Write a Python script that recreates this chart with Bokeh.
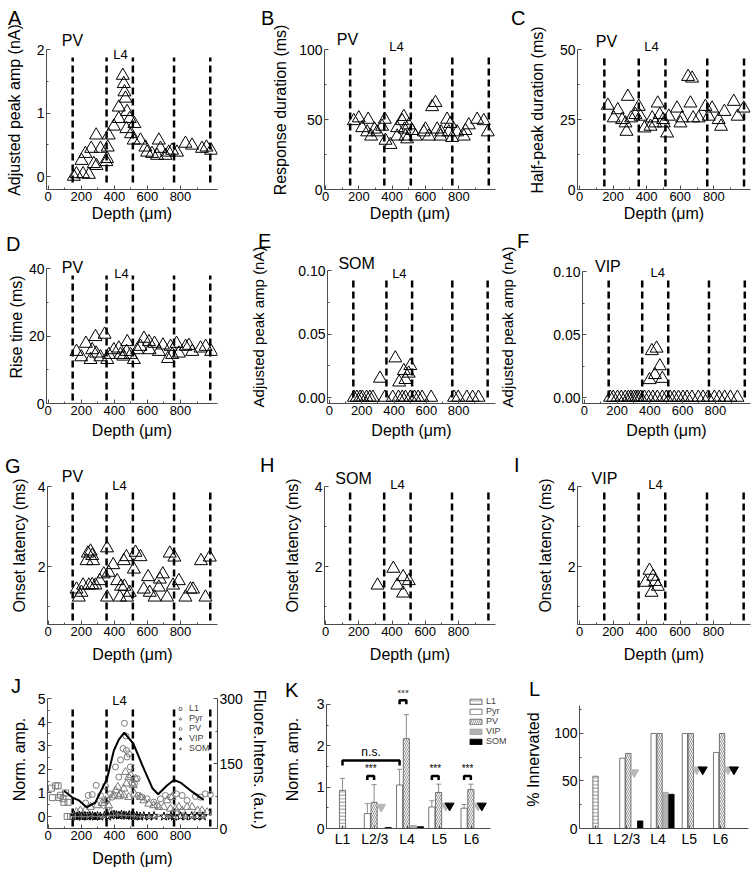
import math
from bokeh.plotting import figure
from bokeh.models import (Range1d, FixedTicker, LinearAxis, Label, Legend, LegendItem, Title,
                          Whisker, ColumnDataSource, TeeHead, PrintfTickFormatter)
from bokeh.layouts import column, row
from bokeh.embed import file_html
from bokeh.resources import INLINE

FONT = "Liberation Sans"
NAN = float("nan")

# ---------------------------------------------------------------- data
LAYER_BOUNDS = [148, 353, 512, 761, 980]
DEPTH_TICKS = [0, 200, 400, 600, 800]
DEPTH_MINOR = [100, 300, 500, 700, 900]

A_DEPTH = [155, 171, 211, 246, 201, 225, 260, 290, 276, 292, 316, 356, 352, 360, 366, 397, 427, 427, 451, 457,
           461, 467, 477, 473, 493, 501, 521, 517, 558, 588, 598, 628, 658, 669, 679, 709, 729, 749, 779, 830,
           870, 930, 957, 985]
A_AMP = [0.0, 0.04, 0.04, 0.03, 0.25, 0.36, 0.44, 0.65, 0.20, 0.17, 0.44, 0.28, 0.23, 0.46, 0.65, 0.79, 1.09, 0.91,
         1.59, 1.46, 1.33, 1.23, 1.02, 0.75, 0.91, 0.67, 0.83, 0.57, 0.57, 0.46, 0.38, 0.36, 0.33, 0.57, 0.44, 0.33,
         0.38, 0.41, 0.38, 0.52, 0.49, 0.44, 0.46, 0.41]

B_DEPTH = [170, 200, 220, 256, 250, 274, 294, 310, 340, 356, 360, 390, 430, 430, 460, 470, 474, 480, 500, 490,
           520, 540, 590, 600, 620, 640, 660, 670, 694, 690, 730, 750, 740, 760, 790, 830, 860, 910, 950, 974, 840]
B_DUR = [49, 51, 44, 50, 41, 38, 43, 41, 45, 50, 35, 32, 38, 44, 49, 52, 43, 38, 46, 36,
         42, 38, 41, 43, 38, 59, 62, 43, 41, 38, 50, 47, 41, 37, 41, 38, 46, 50, 49, 41, 42]

C_DEPTH = [169, 204, 228, 254, 274, 280, 288, 308, 333, 353, 363, 387, 423, 433, 452, 466, 478, 498, 502, 522,
           532, 581, 601, 611, 647, 671, 661, 677, 710, 750, 770, 790, 829, 843, 863, 919, 942, 978]
C_HALF = [30, 25.5, 28.4, 24.9, 23.7, 20.7, 33.2, 25.5, 26.7, 29.6, 26.1, 21.9, 22.5, 25.5, 23.7, 30.8, 26.7, 24.9,
          23.7, 20.1, 26.1, 29, 23.7, 25.5, 40.3, 39.7, 30.8, 25.5, 25.5, 29.6, 26.1, 29, 24.9, 22.5, 27.8, 31.4,
          26.1, 29]

D_DEPTH = [171, 200, 228, 256, 266, 286, 290, 316, 341, 357, 367, 397, 427, 437, 454, 474, 478, 498, 518, 538,
           558, 579, 609, 613, 643, 669, 694, 724, 740, 776, 790, 851, 871, 921, 952, 986, 831, 750]
D_RISE = [15.4, 13.8, 17.8, 13.0, 15.9, 19.8, 14.9, 13.8, 20.5, 13.0, 14.5, 15.9, 16.4, 14.5, 14.0, 15.4, 18.3,
          14.5, 13.0, 15.9, 16.9, 19.3, 18.3, 15.9, 17.8, 15.4, 17.3, 13.3, 16.9, 17.8, 14.9, 17.2, 15.4, 16.4,
          16.9, 15.4, 16.9, 14.5]

E_DEPTH = [152, 170, 190, 204, 230, 250, 269, 343, 392, 428, 451, 471, 501, 527, 550, 574, 630, 772, 798, 851,
           887, 923, 313, 408, 432, 461, 471, 501, 491]
E_AMP = [0, 0, 0, 0, 0, 0, 0, 0, 0, 0, 0, 0, 0, 0, 0, 0, 0, 0, 0, 0,
         0, 0, 0.015, 0.031, 0.012, 0.021, 0.014, 0.025, 0.019]

F_DEPTH = [157, 176, 202, 225, 249, 269, 284, 300, 314, 327, 343, 367, 392, 418, 445, 476, 500, 524, 549, 575,
           602, 627, 657, 696, 725, 755, 794, 824, 857, 892, 935, 412, 441, 461, 431, 398, 476]
F_AMP = [0, 0, 0, 0, 0, 0, 0, 0, 0, 0, 0, 0, 0, 0, 0, 0, 0, 0, 0, 0,
         0, 0, 0, 0, 0, 0, 0, 0, 0, 0, 0, 0.037, 0.039, 0.025, 0.018, 0.014, 0.015]

G_DEPTH = [171, 185, 201, 211, 240, 256, 266, 232, 272, 246, 266, 286, 312, 336, 356, 356, 366, 393, 417, 433,
           441, 457, 473, 461, 477, 493, 518, 528, 558, 578, 604, 614, 643, 675, 693, 669, 719, 735, 763, 755,
           790, 830, 860, 876, 924, 951, 977]
G_LAT = [1.43, 1.23, 1.35, 1.53, 2.33, 2.38, 2.27, 2.14, 2.14, 1.53, 1.54, 1.53, 1.64, 1.81, 2.46, 1.23, 1.85,
         2.04, 1.64, 1.23, 1.50, 2.14, 2.24, 1.50, 1.23, 1.35, 1.93, 2.35, 2.24, 1.43, 1.74, 1.35, 1.23, 1.68,
         1.81, 1.48, 1.23, 2.33, 2.23, 1.53, 1.64, 1.23, 1.43, 1.43, 2.14, 1.23, 2.23]

H_DEPTH = [313, 408, 432, 467, 501, 467]
H_LAT = [1.53, 1.95, 1.53, 1.74, 1.64, 1.33]

I_DEPTH = [395, 418, 440, 452, 468, 430]
I_LAT = [1.6, 1.9, 1.75, 1.62, 1.5, 1.35]

# panel J: normalised amplitudes per cell class, and fluorescence profile
J_L1_DEPTH = [20, 25, 45, 60, 65, 75, 90, 95, 105, 120, 115, 135, 150]
J_L1_AMP = [1.2, 0.8, 1.3, 1.3, 0.8, 0.9, 0.75, 0.6, 1.0, 0.6, 0.0, 0.0, 0.0]
J_PYR_DEPTH = [155, 171, 195, 226, 256, 296, 326, 346, 366, 377, 397, 407, 421, 437, 457, 473, 487, 501, 514, 521,
               528, 467, 457, 427, 487, 558, 578, 608, 638, 669, 699, 739, 769, 790, 810, 840, 870, 904, 930, 961,
               719, 749]
J_PYR_AMP = [0, 0.18, 0.25, 0.28, 0.40, 0.47, 0.57, 0.68, 0.47, 0.18, 0.89, 1.10, 1.25, 0.96, 1.18, 1.39, 1.67,
             1.74, 1.32, 0.96, 1.60, 1.88, 0.89, 0.85, 0.82, 0.82, 0.68, 0.54, 0.47, 0.40, 0.40, 0.33, 0.33, 0.40,
             0.25, 0.40, 0.40, 0.25, 0.25, 0.18, 0.68, 0.82]
J_PV_DEPTH = [226, 242, 266, 290, 316, 336, 356, 377, 407, 427, 437, 453, 461, 471, 473, 487, 477, 497, 507, 538,
              544, 568, 598, 638, 658, 679, 709, 739, 775, 810, 840, 890, 920, 950, 981, 346, 387, 521]
J_PV_AMP = [0.57, 0.89, 0.93, 1.32, 0.89, 0.47, 0.68, 0.96, 2.10, 1.67, 2.40, 2.88, 3.95, 3.41, 2.80, 2.66, 2.52,
            2.10, 1.42, 1.60, 0.89, 0.82, 0.75, 0.61, 0.47, 0.75, 0.89, 0.82, 0.96, 0.89, 0.68, 0.85, 0.82, 0.96,
            0.93, 1.28, 0.82, 1.39]
J_VIP_DEPTH = [160, 175, 190, 205, 222, 238, 252, 268, 283, 298, 315, 340, 362, 380, 398, 412, 428, 443, 458, 472,
               490, 505, 518, 536, 556, 578, 610, 640, 700, 742, 760, 800, 830, 868, 900, 935]
J_VIP_AMP = [0.02, 0, 0.03, 0, 0.02, 0, 0.03, 0.02, 0, 0.02, 0, 0.03, 0, 0.05, 0.08, 0.06, 0.04, 0.08, 0.05, 0.03,
             0.06, 0.04, 0.02, 0.03, 0, 0.02, 0, 0.02, 0, 0.02, 0, 0.01, 0, 0.02, 0, 0.01]
J_SOM_DEPTH = [165, 200, 235, 265, 300, 330, 372, 395, 420, 445, 470, 498, 520, 560, 610, 660, 720, 770, 820, 880, 940]
J_SOM_AMP = [0, 0.01, 0, 0.02, 0, 0.01, 0.03, 0.05, 0.1, 0.06, 0.04, 0.05, 0.02, 0, 0.01, 0, 0.02, 0, 0.01, 0, 0]
FLUOR_DEPTH = [95, 145, 185, 232, 285, 356, 397, 427, 460, 515, 568, 630, 665, 715, 760, 800, 870, 940]
FLUOR_AU = [87, 72, 65, 49, 60, 115, 180, 205, 221, 196, 147, 93, 79, 98, 112, 106, 85, 66]
FLUOR_TOP_AU = 300       # right-axis value level with the top left tick (Norm. amp. 5)

# panels K and L: per layer (L1, L2/3, L4, L5, L6)
LAYERS = ["L1", "L2/3", "L4", "L5", "L6"]
K_MEAN = {"L1": [0.92, NAN, NAN, NAN, NAN],
          "Pyr": [NAN, 0.36, 1.05, 0.52, 0.49],
          "PV": [NAN, 0.63, 2.17, 0.87, 0.94],
          "VIP": [NAN, NAN, 0.07, NAN, NAN],
          "SOM": [NAN, 0.025, 0.045, NAN, NAN]}
K_ERR_TOP = {"L1": [1.21, NAN, NAN, NAN, NAN],
             "Pyr": [NAN, 0.60, 1.43, 0.67, 0.58],
             "PV": [NAN, 1.06, 2.75, 1.07, 1.07]}
K_GREY_MARK = [NAN, 0.52, NAN, 0.55, 0.55]
K_BLACK_MARK = [NAN, NAN, NAN, 0.55, 0.55]
K_SIG_LAYER = [2, 3, 4, 5]
K_SIG_Y = [1.27, 3.10, 1.27, 1.27]
K_SIG_TEXT = ["***", "***", "***", "***"]
K_NS_Y = 1.64

L_PCT = {"L1": [55, NAN, NAN, NAN, NAN],
         "Pyr": [NAN, 74, 100, 100, 80],
         "PV": [NAN, 79, 100, 100, 100],
         "VIP": [NAN, NAN, 38, NAN, NAN],
         "SOM": [NAN, 8, 36, NAN, NAN]}
L_GREY_MARK = [NAN, 59, NAN, 62, 62]
L_BLACK_MARK = [NAN, NAN, NAN, 62, 62]

# ---------------------------------------------------------------- geometry (page pixels)
class Geo:
    def __init__(self, fig, frame, xmap, ymap, dash=None):
        self.fx, self.fy, self.fw, self.fh = fig
        self.L, self.R, self.T, self.B = frame
        (self.xpa, self.xva), (xpb, xvb) = xmap
        self.sx = (xvb - self.xva) / (xpb - self.xpa)
        (self.ypa, self.yva), (ypb, yvb) = ymap
        self.sy = (yvb - self.yva) / (ypb - self.ypa)
        self.dash = dash

    def x(self, px):
        return self.xva + (px - self.xpa) * self.sx

    def y(self, py):
        return self.yva + (py - self.ypa) * self.sy


GEO = {
    "A": Geo((0, 0, 258, 226), (46, 217, 30, 189), ((47.7, 0), (180, 800)), ((176, 0), (49, 2)), (57, 182)),
    "B": Geo((258, 0, 248, 226), (324, 495, 30, 189), ((325, 0), (458.3, 800)), ((189, 0), (49, 100)), (55, 185)),
    "C": Geo((506, 0, 246, 226), (577, 750, 30, 189), ((579, 0), (713.3, 800)), ((189, 0), (49, 50)), (57, 186)),
    "D": Geo((0, 226, 247, 221), (46, 217, 244, 403), ((47.7, 0), (180, 800)), ((403, 0), (263, 40)), (270, 400)),
    "E": Geo((247, 226, 249, 221), (322, 495, 250, 403), ((324, 0), (457, 800)), ((397, 0), (270, 0.1)), (278, 397)),
    "F": Geo((496, 226, 256, 221), (578, 750, 250, 403), ((580, 0), (714, 800)), ((397, 0), (271, 0.1)), (278, 397)),
    "G": Geo((0, 447, 258, 223), (47, 217, 466, 624), ((47.7, 0), (180, 800)), ((566, 2), (486, 4)), (492, 620)),
    "H": Geo((258, 447, 248, 223), (324, 495, 466, 624), ((325, 0), (458, 800)), ((566, 2), (486, 4)), (492, 620)),
    "I": Geo((506, 447, 246, 223), (577, 750, 466, 624), ((579, 0), (713, 800)), ((566, 2), (486, 4)), (492, 620)),
    "J": Geo((0, 670, 270, 208), (47, 217, 690, 828), ((47.7, 0), (180, 800)), ((816, 0), (698, 5)), (705, 826)),
    "K": Geo((270, 670, 245, 208), (326, 512, 690, 840), ((342, 1), (471, 5)), ((840, 0), (705, 3))),
    "L": Geo((515, 670, 237, 208), (579, 748, 690, 841), ((595, 1), (720, 5)), ((841, 0), (737, 100))),
}

AXC = "#4d4d4d"


def new_fig(g):
    p = figure(width=g.fw, height=g.fh, x_range=Range1d(g.x(g.L), g.x(g.R)),
               y_range=Range1d(g.y(g.B), g.y(g.T)), output_backend="svg",
               toolbar_location=None, title=None)
    p.min_border_left = g.L - g.fx
    p.min_border_right = g.fx + g.fw - g.R
    p.min_border_top = g.T - g.fy
    p.min_border_bottom = g.fy + g.fh - g.B
    p.outline_line_color = None
    p.xgrid.visible = False
    p.ygrid.visible = False
    return p


def style(ax, ticks, minor, label, stand, tick_size=14, label_size=16):
    ax.ticker = FixedTicker(ticks=ticks, minor_ticks=minor)
    ax.axis_label = label
    ax.axis_label_standoff = stand
    ax.axis_label_text_font = FONT
    ax.axis_label_text_font_size = f"{label_size}px"
    ax.axis_label_text_font_style = "normal"
    ax.axis_label_text_color = "black"
    ax.major_label_text_font = FONT
    ax.major_label_text_font_size = f"{tick_size}px"
    ax.major_label_text_color = "black"
    ax.major_label_standoff = 2
    ax.axis_line_color = AXC
    ax.major_tick_line_color = AXC
    ax.minor_tick_line_color = AXC
    ax.major_tick_in = 4
    ax.major_tick_out = 0
    ax.minor_tick_in = 2
    ax.minor_tick_out = 0


def put(p, g, px, py, text, size, color="black", align="center"):
    p.add_layout(Label(x=g.x(px), y=g.y(py), text=text, text_font=FONT, text_font_size=f"{size}px",
                       text_color=color, text_align=align, text_baseline="middle"))


def letter(p, g, text, cx, cy, fs=20):
    """Panel letter as a title above the frame; (cx, cy) is the wanted centre of the capital."""
    border = g.T - g.fy
    y_bottom = cy + 0.57 * fs
    s = 2 * (g.T - y_bottom)
    s = min(s, border - 3 - 1.2 * fs)
    off = (cx - 0.33 * fs) - g.L
    p.add_layout(Title(text=text, align="left", offset=off, standoff=int(round(s)), vertical_align="bottom",
                       text_font=FONT, text_font_size=f"{fs}px", text_font_style="normal",
                       text_color="black"), "above")


def dashed(p, g):
    n = len(LAYER_BOUNDS)
    p.segment(x0=LAYER_BOUNDS, x1=LAYER_BOUNDS, y0=[g.y(g.dash[1])] * n, y1=[g.y(g.dash[0])] * n,
              line_color="black", line_width=2.5, line_dash="7 4")


def depth_panel(key, xs, ys, yticks, yminor, top_tick, ylabel, ystand, xstand,
                letter_px, cell, cell_px, l4_px, yfmt=None, ylabel_size=16):
    g = GEO[key]
    p = new_fig(g)
    dashed(p, g)
    p.scatter(xs, ys, marker="triangle", size=13, fill_color=None, line_color="black", line_width=1)
    style(p.xaxis[0], DEPTH_TICKS, DEPTH_MINOR, "Depth (μm)", xstand, tick_size=13)
    ya = p.yaxis[0]
    style(ya, yticks, yminor, ylabel, ystand, label_size=ylabel_size)
    ya.bounds = (g.y(g.B), top_tick)
    if yfmt:
        ya.formatter = PrintfTickFormatter(format=yfmt)
    letter(p, g, key, letter_px[0], letter_px[1])
    put(p, g, cell_px[0], cell_px[1], cell, 16)
    put(p, g, l4_px[0], l4_px[1], "L4", 13)
    return p


pA = depth_panel("A", A_DEPTH, A_AMP, [0, 1, 2], [0.5, 1.5], 2, "Adjusted peak amp (nA)", 11, 1,
                 (14, 14), "PV", (72, 40), (120, 54))
pB = depth_panel("B", B_DEPTH, B_DUR, [0, 50, 100], [25, 75], 100, "Response duration (ms)", 7, 1,
                 (267, 13), "PV", (347, 39), (396, 46))
pC = depth_panel("C", C_DEPTH, C_HALF, [0, 25, 50], [12.5, 37.5], 50, "Half-peak duration (ms)", 11, 1,
                 (517, 12), "PV", (606, 41), (651, 46))
pD = depth_panel("D", D_DEPTH, D_RISE, [0, 20, 40], [10, 30], 40, "Rise time (ms)", 1, 4,
                 (12, 234), "PV", (72, 262), (121, 268))
pE = depth_panel("E", E_DEPTH, E_AMP, [0, 0.05, 0.1], [0.025, 0.075], 0.1, "Adjusted peak amp (nA)", 28, 4,
                 (259, 236), "SOM", (352, 263), (396, 273), yfmt="%.2f", ylabel_size=15)
pF = depth_panel("F", F_DEPTH, F_AMP, [0, 0.05, 0.1], [0.025, 0.075], 0.1, "Adjusted peak amp (nA)", 34, 4,
                 (519, 231), "VIP", (604, 266), (655, 272), yfmt="%.2f", ylabel_size=15)
pG = depth_panel("G", G_DEPTH, G_LAT, [2, 4], [1, 3], 4, "Onset latency (ms)", 7, 7,
                 (11, 465), "PV", (72, 476), (119, 485))
pH = depth_panel("H", H_DEPTH, H_LAT, [2, 4], [1, 3], 4, "Onset latency (ms)", 11, 7,
                 (266, 464), "SOM", (353, 478), (397, 484))
pI = depth_panel("I", I_DEPTH, I_LAT, [2, 4], [1, 3], 4, "Onset latency (ms)", 11, 7,
                 (520, 464), "VIP", (604, 478), (655, 484))

# ---------------------------------------------------------------- J
g = GEO["J"]
pJ = new_fig(g)
dashed(pJ, g)
GREY = "#7a7a7a"
rL1 = pJ.scatter(J_L1_DEPTH, J_L1_AMP, marker="square", size=6, fill_color=None, line_color=GREY)
rPyr = pJ.scatter(J_PYR_DEPTH, J_PYR_AMP, marker="triangle", size=8, fill_color=None, line_color=GREY)
rPV = pJ.scatter(J_PV_DEPTH, J_PV_AMP, marker="circle", size=6, fill_color=None, line_color=GREY)
rVIP = pJ.scatter(J_VIP_DEPTH, J_VIP_AMP, marker="star", size=9, fill_color=None, line_color="black")
rSOM = pJ.scatter(J_SOM_DEPTH, J_SOM_AMP, marker="cross", size=6, line_color=GREY)
# right axis: 0 a.u. at the bottom of the frame, FLUOR_TOP_AU level with Norm. amp. 5
au_per_norm = FLUOR_TOP_AU / (5 - g.y(g.B))
pJ.extra_y_ranges = {"fl": Range1d(0, (g.y(g.T) - g.y(g.B)) * au_per_norm)}
pJ.line(FLUOR_DEPTH, FLUOR_AU, y_range_name="fl", line_color="black", line_width=2)
style(pJ.xaxis[0], DEPTH_TICKS, DEPTH_MINOR, "Depth (μm)", 7, tick_size=13)
style(pJ.yaxis[0], [0, 1, 2, 3, 4, 5], [0.5, 1.5, 2.5, 3.5, 4.5], "Norm. amp.", 7)
pJ.yaxis[0].bounds = (g.y(g.B), 5)
rax = LinearAxis(y_range_name="fl")
style(rax, [0, 150, 300], [75, 225], "Fluore.Intens. (a.u.)", 5)
rax.bounds = (0, FLUOR_TOP_AU)
pJ.add_layout(rax, "right")
letter(pJ, g, "J", 17, 685)
put(pJ, g, 119, 700, "L4", 13)
legJ = Legend(items=[LegendItem(label="L1", renderers=[rL1]), LegendItem(label="Pyr", renderers=[rPyr]),
                     LegendItem(label="PV", renderers=[rPV]), LegendItem(label="VIP", renderers=[rVIP]),
                     LegendItem(label="SOM", renderers=[rSOM])],
              location=(129, 75), glyph_width=8, glyph_height=7, label_height=9, label_width=10, spacing=0,
              padding=0, margin=0, label_standoff=5, label_text_font=FONT, label_text_font_size="9px",
              border_line_color=None, background_fill_alpha=0)
pJ.add_layout(legJ)

# ---------------------------------------------------------------- K and L
BAR_STYLE = {
    "L1": dict(fill_color="white", line_color="#555555", line_width=0.8, hatch_pattern="horizontal_line",
               hatch_color="#666666", hatch_scale=3.5, hatch_weight=0.7),
    "Pyr": dict(fill_color="white", line_color="#555555", line_width=0.8),
    "PV": dict(fill_color="white", line_color="#555555", line_width=0.8, hatch_pattern="left_diagonal_line",
               hatch_color="#666666", hatch_scale=4, hatch_weight=0.7),
    "VIP": dict(fill_color="#b3b3b3", line_color="#999999", line_width=0.8),
    "SOM": dict(fill_color="black", line_color="black", line_width=0.8),
}


def keep(vals, off):
    xs = [i + 1 + off for i, v in enumerate(vals) if not math.isnan(v)]
    ys = [v for v in vals if not math.isnan(v)]
    return xs, ys


def bar_panel(key, means, offs, width):
    g = GEO[key]
    p = new_fig(g)
    rs = {}
    for name in ["L1", "Pyr", "PV", "VIP", "SOM"]:
        xs, ys = keep(means[name], offs[name])
        rs[name] = p.vbar(x=xs, top=ys, bottom=0, width=width, **BAR_STYLE[name])
    xa = p.xaxis[0]
    style(xa, [1, 2, 3, 4, 5], [], "", 0)
    xa.major_label_overrides = {i + 1: lab for i, lab in enumerate(LAYERS)}
    xa.major_tick_in = 3
    return p, g, rs


K_OFF = {"L1": 0.0, "Pyr": -0.23, "PV": -0.02, "VIP": 0.20, "SOM": 0.42}
pK, g, rsK = bar_panel("K", K_MEAN, K_OFF, 0.19)
for name in ["L1", "Pyr", "PV"]:
    xs, tops = keep(K_MEAN[name], K_OFF[name])
    _, ups = keep(K_ERR_TOP[name], K_OFF[name])
    src = ColumnDataSource(dict(base=xs, lower=tops, upper=ups))
    pK.add_layout(Whisker(source=src, base="base", lower="lower", upper="upper", dimension="height",
                          line_color="#8c8c8c", line_width=1,
                          upper_head=TeeHead(size=5, line_color="#8c8c8c", line_width=1), lower_head=None))
xs, ys = keep(K_GREY_MARK, K_OFF["VIP"])
pK.scatter(xs, ys, marker="inverted_triangle", size=9, fill_color="#b8b8b8", line_color="#b8b8b8")
xs, ys = keep(K_BLACK_MARK, K_OFF["SOM"] - 0.1)
pK.scatter(xs, ys, marker="inverted_triangle", size=9, fill_color="black", line_color="black")
# significance brackets
bx, by = [], []
for lay, yv in zip(K_SIG_LAYER, K_SIG_Y):
    x0, x1 = lay + K_OFF["Pyr"], lay + K_OFF["PV"]
    bx.append([x0, x0, x1, x1])
    by.append([yv - 0.1, yv, yv, yv - 0.1])
nx0, nx1 = 1 + K_OFF["L1"], 3 + K_OFF["Pyr"]
bx.append([nx0, nx0, nx1, nx1])
by.append([K_NS_Y - 0.12, K_NS_Y, K_NS_Y, K_NS_Y - 0.12])
pK.multi_line(bx, by, line_color="black", line_width=2.5)
for lay, yv, t in zip(K_SIG_LAYER, K_SIG_Y, K_SIG_TEXT):
    pK.add_layout(Label(x=lay + (K_OFF["Pyr"] + K_OFF["PV"]) / 2, y=yv + 0.04, text=t, text_font=FONT,
                        text_font_size="10px", text_align="center", text_baseline="bottom",
                        text_color="black"))
pK.add_layout(Label(x=(nx0 + nx1) / 2, y=K_NS_Y + 0.05, text="n.s.", text_font=FONT, text_font_size="12px",
                    text_align="center", text_baseline="bottom", text_color="black"))
style(pK.yaxis[0], [0, 1, 2, 3], [0.5, 1.5, 2.5], "Norm. amp.", 13)
pK.yaxis[0].bounds = (0, 3)
pK.xaxis[0].bounds = (g.x(g.L), g.x(490))
letter(pK, g, "K", 291, 689)
legK = Legend(items=[LegendItem(label=n, renderers=[rsK[n]]) for n in ["L1", "Pyr", "PV", "VIP", "SOM"]],
              location=(142, 82), glyph_width=15, glyph_height=7, label_height=9, label_width=10, spacing=0,
              padding=0, margin=0, label_standoff=3, label_text_font=FONT, label_text_font_size="9px",
              border_line_color=None, background_fill_alpha=0)
pK.add_layout(legK)

L_OFF = {"L1": 0.0, "Pyr": -0.14, "PV": 0.05, "VIP": 0.24, "SOM": 0.43}
pL, g, rsL = bar_panel("L", L_PCT, L_OFF, 0.17)
xs, ys = keep(L_GREY_MARK, L_OFF["VIP"])
pL.scatter(xs, ys, marker="inverted_triangle", size=9, fill_color="#b8b8b8", line_color="#b8b8b8")
xs, ys = keep(L_BLACK_MARK, L_OFF["SOM"])
pL.scatter(xs, ys, marker="inverted_triangle", size=9, fill_color="black", line_color="black")
style(pL.yaxis[0], [0, 50, 100], [25, 75, 125], "% Innervated", 9)
pL.yaxis[0].bounds = (0, 129)
letter(pL, g, "L", 535, 688)

layout = column(row(pA, pB, pC), row(pD, pE, pF), row(pG, pH, pI), row(pJ, pK, pL))
open("out.html", "w", encoding="utf-8").write(file_html(layout, INLINE))
